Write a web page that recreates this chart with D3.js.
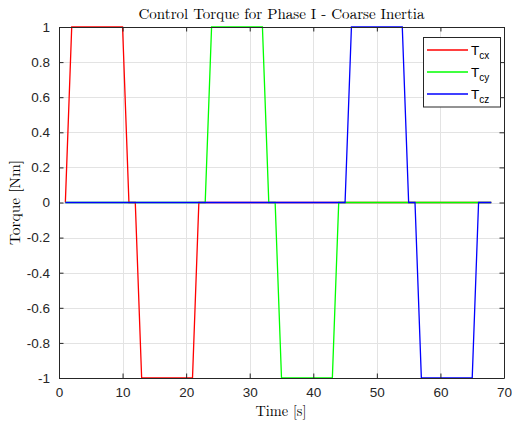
<!DOCTYPE html>
<html>
<head>
<meta charset="utf-8">
<script src="https://cdn.jsdelivr.net/npm/d3@7"></script>
<style>
  html, body { margin: 0; padding: 0; background: #fff; }
  svg { display: block; }
</style>
</head>
<body>
<svg id="chart" width="512" height="421"></svg>
<script>
// ---- data ----
const title = "Control Torque for Phase I - Coarse Inertia";
const xLabel = "Time [s]";
const yLabel = "Torque [Nm]";
const xTicks = [0, 10, 20, 30, 40, 50, 60, 70];
const yTicks = [-1, -0.8, -0.6, -0.4, -0.2, 0, 0.2, 0.4, 0.6, 0.8, 1];

const tcxTime  = [1, 2, 10, 11, 12, 13, 21, 22, 68];
const tcxValue = [0, 1, 1, 0, 0, -1, -1, 0, 0];
const tcyTime  = [1, 23, 24, 32, 33, 34, 35, 43, 44, 68];
const tcyValue = [0, 0, 1, 1, 0, 0, -1, -1, 0, 0];
const tczTime  = [1, 45, 46, 54, 55, 56, 57, 65, 66, 68];
const tczValue = [0, 0, 1, 1, 0, 0, -1, -1, 0, 0];

const seriesNames = ["cx", "cy", "cz"];
const seriesColors = ["#ff0000", "#00ff00", "#0000ff"];

// ---- layout ----
const L = 59, R = 504, T = 27, B = 378;
const svg = d3.select("#chart");
const x = d3.scaleLinear().domain([0, 70]).range([L, R]);
const y = d3.scaleLinear().domain([-1, 1]).range([B, T]);

const axisColor = "#262626";
const tickFont = "'Liberation Sans', Arial, Helvetica, sans-serif";
const serifFont = "'Latin Modern Roman', 'CMU Serif', 'Liberation Serif', 'Times New Roman', serif";

// background
svg.append("rect").attr("x", L).attr("y", T).attr("width", R - L).attr("height", B - T).attr("fill", "#fff");

// grid
const grid = svg.append("g").attr("stroke", "#e3e3e3").attr("stroke-width", 1);
xTicks.forEach(t => {
  if (t === 0 || t === 70) return;
  grid.append("line").attr("x1", Math.round(x(t)) + 0.5).attr("x2", Math.round(x(t)) + 0.5)
    .attr("y1", T).attr("y2", B);
});
yTicks.forEach(t => {
  if (t === -1 || t === 1) return;
  grid.append("line").attr("y1", Math.round(y(t)) + 0.5).attr("y2", Math.round(y(t)) + 0.5)
    .attr("x1", L).attr("x2", R);
});

// series
const series = [
  { name: seriesNames[0], color: seriesColors[0], t: tcxTime, v: tcxValue },
  { name: seriesNames[1], color: seriesColors[1], t: tcyTime, v: tcyValue },
  { name: seriesNames[2], color: seriesColors[2], t: tczTime, v: tczValue }
];
const line = d3.line().x(d => x(d[0])).y(d => y(d[1]));
series.forEach(s => {
  svg.append("path")
    .datum(s.t.map((t, i) => [t, s.v[i]]))
    .attr("fill", "none")
    .attr("stroke", s.color)
    .attr("stroke-width", 1.3)
    .attr("stroke-linejoin", "miter")
    .attr("d", line);
});

// axes (ticks inward, box)
const tl = 4.5;
const bottomAxis = d3.axisBottom(x).tickValues(xTicks).tickSizeInner(-tl).tickSizeOuter(0).tickPadding(9).tickFormat(d3.format("d"));
const topAxis = d3.axisTop(x).tickValues(xTicks).tickSizeInner(-tl).tickSizeOuter(0).tickFormat("");
const leftAxis = d3.axisLeft(y).tickValues(yTicks).tickSizeInner(-tl).tickSizeOuter(0).tickPadding(9)
  .tickFormat(d => d === 0 ? "0" : (Math.abs(d) === 1 ? String(d) : d3.format(".1f")(d)).replace("−", "-"));
const rightAxis = d3.axisRight(y).tickValues(yTicks).tickSizeInner(-tl).tickSizeOuter(0).tickFormat("");

function styleAxis(g) {
  g.select(".domain").attr("stroke", axisColor).attr("stroke-width", 1);
  g.selectAll(".tick line").attr("stroke", axisColor).attr("stroke-width", 1);
  g.selectAll(".tick text").attr("fill", axisColor).attr("font-family", tickFont).attr("font-size", "13.5px");
}
svg.append("g").attr("transform", `translate(0,${B})`).call(bottomAxis).call(styleAxis);
svg.append("g").attr("transform", `translate(0,${T})`).call(topAxis).call(styleAxis);
svg.append("g").attr("transform", `translate(${L},0)`).call(leftAxis).call(styleAxis);
svg.append("g").attr("transform", `translate(${R},0)`).call(rightAxis).call(styleAxis);

// title & labels
svg.append("text").attr("x", (L + R) / 2).attr("y", 19).attr("text-anchor", "middle")
  .attr("font-family", serifFont).attr("font-size", "14.5px").attr("fill", "#000")
  .attr("textLength", 286).attr("lengthAdjust", "spacingAndGlyphs")
  .text(title);
svg.append("text").attr("x", 281).attr("y", 416).attr("text-anchor", "middle")
  .attr("font-family", serifFont).attr("font-size", "14.5px").attr("fill", "#000")
  .attr("textLength", 51).attr("lengthAdjust", "spacingAndGlyphs")
  .text(xLabel);
svg.append("text").attr("transform", `translate(20,${(T + B) / 2}) rotate(-90)`).attr("text-anchor", "middle")
  .attr("font-family", serifFont).attr("font-size", "14.5px").attr("fill", "#000")
  .attr("textLength", 85).attr("lengthAdjust", "spacingAndGlyphs")
  .text(yLabel);

// legend
const lg = svg.append("g");
lg.append("rect").attr("x", 423.5).attr("y", 37.5).attr("width", 77).attr("height", 69.5)
  .attr("fill", "#fff").attr("stroke", axisColor).attr("stroke-width", 1);
const legendY = [50, 72, 94];
series.forEach((s, i) => {
  lg.append("line").attr("x1", 427).attr("x2", 468).attr("y1", legendY[i]).attr("y2", legendY[i])
    .attr("stroke", s.color).attr("stroke-width", 1.3);
  const t = lg.append("text").attr("x", 471).attr("y", legendY[i] + 5)
    .attr("font-family", tickFont).attr("font-size", "13.5px").attr("fill", "#000");
  t.append("tspan").text("T");
  t.append("tspan").attr("font-size", "10px").attr("dy", 4).text(s.name);
});
</script>
</body>
</html>
